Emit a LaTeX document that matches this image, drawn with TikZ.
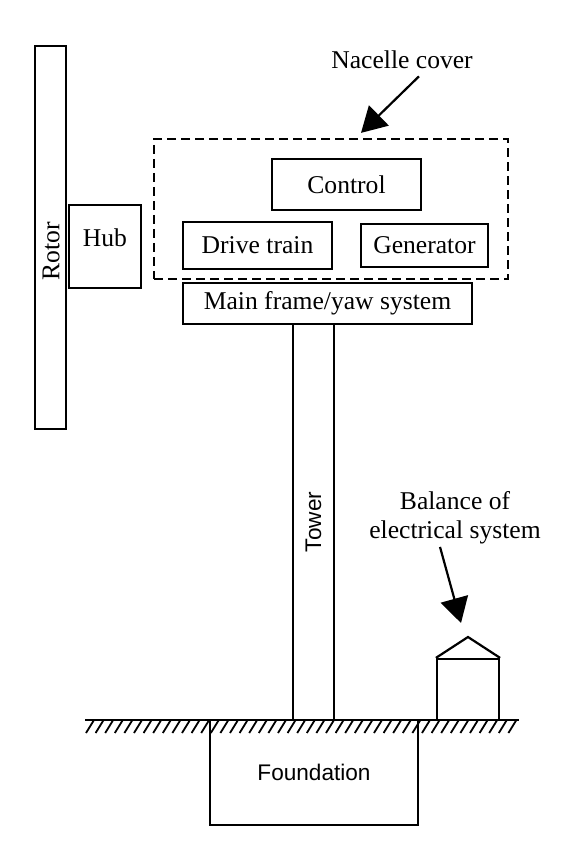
\documentclass[tikz,border=0pt]{standalone}
\usepackage{fontspec}
\setmainfont{Liberation Serif}
\setsansfont{Liberation Sans}
\usepackage{tikz}
\usetikzlibrary{arrows.meta}
\newcommand{\partfont}{\fontsize{12.8pt}{14.5pt}\selectfont}
\newcommand{\partfontsans}{\sffamily\fontsize{11.3pt}{13pt}\selectfont}
\tikzset{
    part-box/.style = {draw, line width=1.1pt, rectangle, font=\partfont},
    part-box-sans/.style = {draw, line width=1.1pt, rectangle, font=\partfontsans},
    cover-box/.style = {draw, line width=1.1pt, rectangle, dash pattern=on 4.5pt off 2.5pt},
    callout-text/.style = {font=\partfont, align=center},
    callout-arrow/.style = {-{Triangle[length=12.5pt, width=14pt]}, line width=1.1pt},
}

\begin{document}
\begin{tikzpicture}[x=0.5pt, y=-0.5pt]
\useasboundingbox (0,0) rectangle (573,865);
% rotor and hub
\node [part-box, minimum width=15.5pt, minimum height=191.5pt] (rotor) at (50.5,237.5) {};
\node [rotate=90, font=\partfont] (rotor-text) at (51,251) {Rotor};
\node [part-box, minimum width=36pt, minimum height=41.5pt, text depth=8.5pt] (hub) at (105,246.5) {Hub};
% nacelle and its parts
\node [cover-box, minimum width=177pt, minimum height=70pt] (nacelle) at (331,209) {};
\node [part-box, minimum width=74.5pt, minimum height=25.5pt] (control) at (346.5,184.5) {Control};
\node [part-box, minimum width=74.5pt, minimum height=23.5pt] (drive) at (257.5,245.5) {Drive train};
\node [part-box, minimum width=63.5pt, minimum height=21.5pt] (generator) at (424.5,245.5) {Generator};
\node [part-box, minimum width=144.5pt, minimum height=20.5pt] (mainframe) at (327.5,303.5) {Main frame/yaw system};
\node [callout-text, anchor=base] (cover-label) at (402,69) {Nacelle cover};
\draw [callout-arrow] ([xshift=8.5pt]cover-label.south) -- ([xshift=15pt,yshift=2.5pt]nacelle.north);
% tower, ground and foundation
\node [part-box-sans, rotate=90, minimum width=198pt, minimum height=20.5pt] (tower) at (313.5,522) {Tower};
\draw [line width=1.1pt] (85,720) -- (519,720);
\foreach \x in {86,95.6,...,510}
    \draw [line width=0.9pt] (\x,733) -- ++(8,-13);
\node [part-box-sans, minimum width=104pt, minimum height=52.5pt] (foundation) at (314,772.5) {Foundation};
% balance of electrical system
\node [part-box, minimum width=31pt, minimum height=30.5pt] (house) at (468,689.5) {};
\coordinate (roof) at (468,637);
\draw [line width=1.1pt] (house.north west) -- (roof) -- (house.north east);
\node [callout-text] (balance) at (455,517.6) {Balance of\\electrical system};
\draw [callout-arrow] ([xshift=-7.5pt,yshift=2pt]balance.south) -- ([xshift=-3.5pt,yshift=7pt]roof);
\end{tikzpicture}
\end{document}
